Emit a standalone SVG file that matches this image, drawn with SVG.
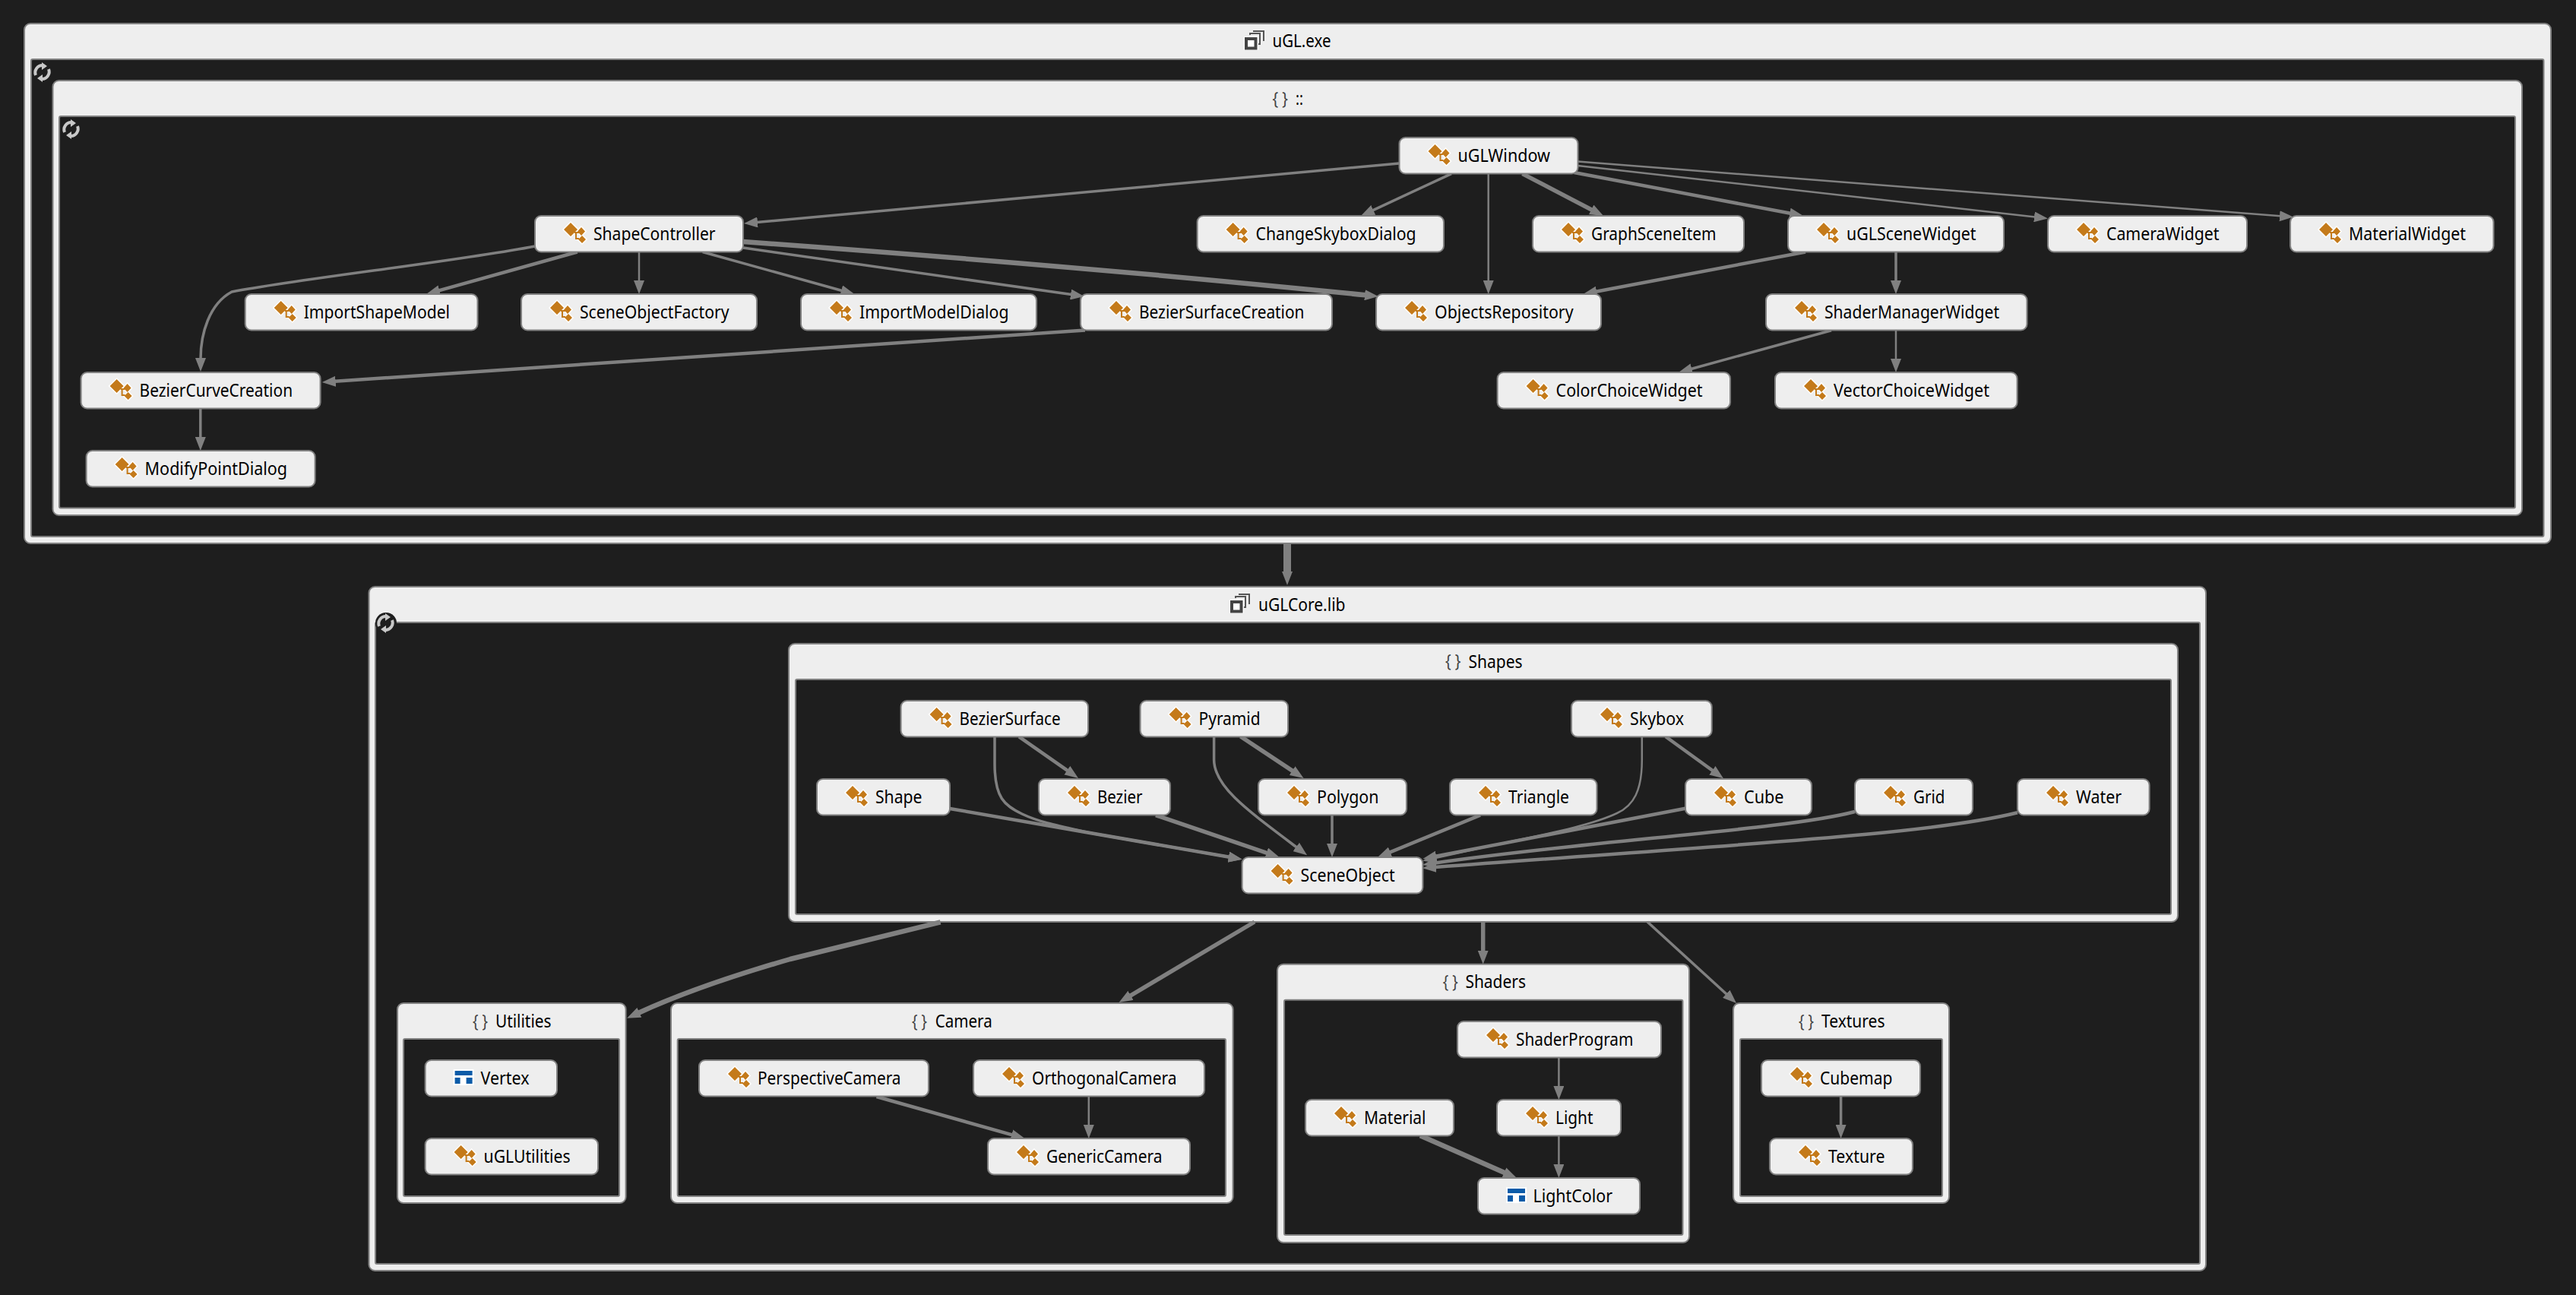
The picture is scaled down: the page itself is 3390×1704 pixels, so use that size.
<svg xmlns="http://www.w3.org/2000/svg" xmlns:xlink="http://www.w3.org/1999/xlink" width="3390" height="1704" viewBox="0 0 3390 1704">
<style>
.frame{fill:#eeeeee;stroke:#808080;stroke-width:2}
.inner{fill:#1e1e1e;stroke:#808080;stroke-width:2}
.node{fill:#eeeeee;stroke:#808080;stroke-width:2}
text{font-family:"Noto Sans","Open Sans","Liberation Sans",sans-serif;font-size:23.5px;fill:#000000}
.br{fill:#444444;font-size:24px}
.e{fill:none;stroke:#808080;marker-end:url(#head)}
.w2{stroke-width:2.5}.w3{stroke-width:3.5}.w4{stroke-width:4.5}.w5{stroke-width:5.5}.w6{stroke-width:6.5}.w10{stroke-width:10}
.ih{fill:#ffffff;stroke:#ffffff;stroke-width:3}
.ic{fill:#c47a1a}
.il{fill:none;stroke:#c47a1a;stroke-width:2}
.sy{fill:none;stroke:#c8c8c8;stroke-width:4}
.syh{fill:#c8c8c8}
</style>
<defs>
<marker id="head" markerUnits="userSpaceOnUse" markerWidth="19" markerHeight="14" refX="1" refY="7" orient="auto"><path d="M0,0L18,7L0,14z" fill="#808080"/></marker>
<g id="cls">
<path class="ih" d="M47,9L56,18L47,27L38,18zM61,15L66,20.5L61,26L56,20.5zM62,26L67,31L62,36L57,31z"/>
<path class="il" d="M52,22H58M54,22V30H58"/>
<path class="ic" d="M47,9L56,18L47,27L38,18zM61,15L66,20.5L61,26L56,20.5zM62,26L67,31L62,36L57,31z"/>
</g>
<g id="val">
<rect x="37" y="12" width="27" height="21" fill="#ffffff"/>
<path d="M39,14H62V20H39zM39,23H46V31H39zM54,23H62V31H54z" fill="#0a5ba8"/>
</g>
<g id="asm">
<rect x="0" y="8" width="19" height="18" fill="#ffffff"/>
<path d="M8,6V4H21V18H19M13,2V1H26V14" fill="none" stroke="#555555" stroke-width="2"/>
<rect x="3" y="11" width="12.5" height="12.5" fill="#ffffff" stroke="#444444" stroke-width="4"/>
</g>
<g id="sync">
<path class="sy" d="M3,16A9.5,9.5 0 0 1 12,3"/>
<path class="sy" d="M20,8A9.5,9.5 0 0 1 11,21"/>
<path class="syh" d="M11,-1V9L18,4zM12,25V15L5,20z"/>
</g>
</defs>
<rect width="3390" height="1704" fill="#1e1e1e"/>

<g id="group-uGL-exe">
<rect class="frame" x="32" y="31" width="3325" height="684" rx="8"/>
<rect class="inner" x="41" y="78" width="3306.5" height="628" rx="2"/>
<use href="#asm" x="1637" y="40"/>
<text x="1674.5" y="62" textLength="77" lengthAdjust="spacingAndGlyphs">uGL.exe</text>
<use href="#sync" x="44" y="83"/>
</g>
<g id="group-global">
<rect class="frame" x="69.5" y="106" width="3249.5" height="572" rx="8"/>
<rect class="inner" x="78" y="153" width="3232" height="515.5" rx="2"/>
<text class="br" x="1674.5" y="137.5" textLength="20.5" lengthAdjust="spacingAndGlyphs">{ }</text>
<text x="1705" y="137.5" textLength="10" lengthAdjust="spacingAndGlyphs">::</text>
<use href="#sync" x="82" y="158"/>
</g>
<g id="group-uGLCore-lib">
<rect class="frame" x="485.5" y="772" width="2417.5" height="900" rx="8"/>
<rect class="inner" x="494" y="819" width="2401" height="844" rx="2"/>
<use href="#asm" x="1618" y="781"/>
<text x="1656" y="803.5" textLength="114.5" lengthAdjust="spacingAndGlyphs">uGLCore.lib</text>
<circle cx="508" cy="820" r="14" fill="#1e1e1e"/>
<use href="#sync" x="496" y="808"/>
</g>
<g id="group-Shapes">
<rect class="frame" x="1038" y="847" width="1828" height="366" rx="8"/>
<rect class="inner" x="1047" y="894" width="1810" height="309" rx="2"/>
<text class="br" x="1902" y="878" textLength="20.5" lengthAdjust="spacingAndGlyphs">{ }</text>
<text x="1932.5" y="878.5" textLength="71" lengthAdjust="spacingAndGlyphs">Shapes</text>
</g>
<g id="group-Utilities">
<rect class="frame" x="523" y="1320" width="300.6" height="263" rx="8"/>
<rect class="inner" x="531" y="1367" width="284" height="207" rx="2"/>
<text class="br" x="622" y="1351.5" textLength="20" lengthAdjust="spacingAndGlyphs">{ }</text>
<text x="652" y="1352" textLength="73.5" lengthAdjust="spacingAndGlyphs">Utilities</text>
</g>
<g id="group-Camera">
<rect class="frame" x="883" y="1320" width="739.6" height="263" rx="8"/>
<rect class="inner" x="891.7" y="1367" width="721.3" height="207" rx="2"/>
<text class="br" x="1200" y="1351.5" textLength="20" lengthAdjust="spacingAndGlyphs">{ }</text>
<text x="1230.7" y="1352" textLength="75" lengthAdjust="spacingAndGlyphs">Camera</text>
</g>
<g id="group-Shaders">
<rect class="frame" x="1681" y="1268.7" width="542" height="366.3" rx="8"/>
<rect class="inner" x="1690" y="1315.7" width="524.5" height="309.3" rx="2"/>
<text class="br" x="1898.7" y="1300" textLength="20" lengthAdjust="spacingAndGlyphs">{ }</text>
<text x="1928.4" y="1300.2" textLength="79.6" lengthAdjust="spacingAndGlyphs">Shaders</text>
</g>
<g id="group-Textures">
<rect class="frame" x="2281" y="1320" width="284" height="263" rx="8"/>
<rect class="inner" x="2290" y="1367" width="266" height="207" rx="2"/>
<text class="br" x="2367" y="1351.5" textLength="20" lengthAdjust="spacingAndGlyphs">{ }</text>
<text x="2397" y="1352" textLength="83.5" lengthAdjust="spacingAndGlyphs">Textures</text>
</g>

<g id="connectors">
<path class="e w3" d="M1841,215L996,292.5"/>
<path class="e w3" d="M1910,228.6L1806.4,276.8"/>
<path class="e w2" d="M1958.7,228.5V370"/>
<path class="e w5" d="M2003.5,228.6L2095,276.2"/>
<path class="e w4" d="M2071.6,227L2356.3,280.8"/>
<path class="e w2" d="M2076.5,218L2678,285.5"/>
<path class="e w2" d="M2076.5,212.6L3001,284.3"/>
<path class="e w3" d="M704,324C600,344 400,366 305,384C275,400 264,440 264,472"/>
<path class="e w4" d="M759.7,331.5L577.4,382.4"/>
<path class="e w2" d="M841,331.5V370"/>
<path class="e w3" d="M924.6,331.5L1108.1,382.5"/>
<path class="e w3" d="M978,326L1410,387.6"/>
<path class="e w6" d="M978,318Q1420,350 1797,388.3"/>
<path class="e w4" d="M1428,434.4L440.7,501.8"/>
<path class="e w3" d="M263.8,537.6V576"/>
<path class="e w4" d="M2376,331.5L2100.2,383.8"/>
<path class="e w3" d="M2495,331.5V370"/>
<path class="e w3" d="M2410,434.8L2225.4,485.5"/>
<path class="e w2" d="M2495,434.8V473"/>
<path class="e w10" d="M1694,715V753"/>
<path class="e w4" d="M1341,969.3L1405.1,1014.2"/>
<path class="e w3" d="M1309,969V1005C1309,1050 1322,1060 1345,1071C1370,1083 1400,1088 1440,1097L1617.9,1127.8"/>
<path class="e w4" d="M1250,1064L1617.9,1127.8"/>
<path class="e w5" d="M1521,1072.7L1667.6,1122.5"/>
<path class="e w5" d="M1632.6,969L1701.4,1014.6"/>
<path class="e w3" d="M1597.6,969V1000C1598,1035 1640,1065 1706.5,1115"/>
<path class="e w3" d="M1753,1072V1111"/>
<path class="e w4" d="M1948,1072.7L1828.7,1121.6"/>
<path class="e w4" d="M2192,969.3L2254.2,1014.3"/>
<path class="e w2" d="M2160.8,969V1000C2160.8,1040 2150,1060 2128,1070C2090,1088 2020,1100 1975,1110L1889,1129"/>
<path class="e w4" d="M2218,1063.7L1889.2,1126.8"/>
<path class="e w4" d="M2441,1068C2350,1092 2100,1105 1889,1135.5"/>
<path class="e w4" d="M2655,1069.3C2540,1098 2300,1110 1889,1141"/>
<path class="e w6" d="M1237.6,1213.3L1040,1262C960,1285 890,1310 840.5,1332.7"/>
<path class="e w5" d="M1651,1213L1487.2,1310.3"/>
<path class="e w5" d="M1951.7,1213V1251.7"/>
<path class="e w3" d="M2168,1213L2272.5,1308.5"/>
<path class="e w4" d="M1153.5,1443L1332.2,1493.4"/>
<path class="e w2" d="M1432.8,1443V1481"/>
<path class="e w2" d="M2051.4,1391V1430"/>
<path class="e w2" d="M2051.4,1494V1533"/>
<path class="e w6" d="M1869,1494.3L1980.4,1543.2"/>
<path class="e w3" d="M2422.6,1443V1481"/>
</g>

<g id="n-uGLWindow"><rect class="node" x="1841.5" y="181" width="235" height="47.5" rx="8"/><use href="#cls" x="1841.5" y="181"/><text x="1918.5" y="213" textLength="121.5" lengthAdjust="spacingAndGlyphs">uGLWindow</text></g>
<g id="n-ShapeController"><rect class="node" x="704" y="284" width="274" height="47.5" rx="8"/><use href="#cls" x="704" y="284"/><text x="781" y="316" textLength="160.5" lengthAdjust="spacingAndGlyphs">ShapeController</text></g>
<g id="n-ChangeSkyboxDialog"><rect class="node" x="1575.6" y="284" width="324.4" height="47.5" rx="8"/><use href="#cls" x="1575.6" y="284"/><text x="1652.6" y="316" textLength="211" lengthAdjust="spacingAndGlyphs">ChangeSkyboxDialog</text></g>
<g id="n-GraphSceneItem"><rect class="node" x="2017" y="284" width="278" height="47.5" rx="8"/><use href="#cls" x="2017" y="284"/><text x="2094" y="316" textLength="164.5" lengthAdjust="spacingAndGlyphs">GraphSceneItem</text></g>
<g id="n-uGLSceneWidget"><rect class="node" x="2353" y="284" width="284" height="47.5" rx="8"/><use href="#cls" x="2353" y="284"/><text x="2430" y="316" textLength="170.5" lengthAdjust="spacingAndGlyphs">uGLSceneWidget</text></g>
<g id="n-CameraWidget"><rect class="node" x="2695" y="284" width="262" height="47.5" rx="8"/><use href="#cls" x="2695" y="284"/><text x="2772" y="316" textLength="148.5" lengthAdjust="spacingAndGlyphs">CameraWidget</text></g>
<g id="n-MaterialWidget"><rect class="node" x="3014" y="284" width="267.5" height="47.5" rx="8"/><use href="#cls" x="3014" y="284"/><text x="3091" y="316" textLength="154" lengthAdjust="spacingAndGlyphs">MaterialWidget</text></g>
<g id="n-ImportShapeModel"><rect class="node" x="322.7" y="387" width="305.8" height="47.5" rx="8"/><use href="#cls" x="322.7" y="387"/><text x="399.7" y="419" textLength="192.3" lengthAdjust="spacingAndGlyphs">ImportShapeModel</text></g>
<g id="n-SceneObjectFactory"><rect class="node" x="686" y="387" width="310" height="47.5" rx="8"/><use href="#cls" x="686" y="387"/><text x="763" y="419" textLength="196.5" lengthAdjust="spacingAndGlyphs">SceneObjectFactory</text></g>
<g id="n-ImportModelDialog"><rect class="node" x="1054" y="387" width="310" height="47.5" rx="8"/><use href="#cls" x="1054" y="387"/><text x="1131" y="419" textLength="196.5" lengthAdjust="spacingAndGlyphs">ImportModelDialog</text></g>
<g id="n-BezierSurfaceCreation"><rect class="node" x="1422" y="387" width="331" height="47.5" rx="8"/><use href="#cls" x="1422" y="387"/><text x="1499" y="419" textLength="217.5" lengthAdjust="spacingAndGlyphs">BezierSurfaceCreation</text></g>
<g id="n-ObjectsRepository"><rect class="node" x="1811" y="387" width="296" height="47.5" rx="8"/><use href="#cls" x="1811" y="387"/><text x="1888" y="419" textLength="182.5" lengthAdjust="spacingAndGlyphs">ObjectsRepository</text></g>
<g id="n-ShaderManagerWidget"><rect class="node" x="2324" y="387" width="343.5" height="47.5" rx="8"/><use href="#cls" x="2324" y="387"/><text x="2401" y="419" textLength="230" lengthAdjust="spacingAndGlyphs">ShaderManagerWidget</text></g>
<g id="n-BezierCurveCreation"><rect class="node" x="106.6" y="490" width="315" height="47.5" rx="8"/><use href="#cls" x="106.6" y="490"/><text x="183.6" y="522" textLength="201.5" lengthAdjust="spacingAndGlyphs">BezierCurveCreation</text></g>
<g id="n-ColorChoiceWidget"><rect class="node" x="1970.6" y="490" width="306.4" height="47.5" rx="8"/><use href="#cls" x="1970.6" y="490"/><text x="2047.6" y="522" textLength="193" lengthAdjust="spacingAndGlyphs">ColorChoiceWidget</text></g>
<g id="n-VectorChoiceWidget"><rect class="node" x="2336" y="490" width="318.6" height="47.5" rx="8"/><use href="#cls" x="2336" y="490"/><text x="2413" y="522" textLength="205" lengthAdjust="spacingAndGlyphs">VectorChoiceWidget</text></g>
<g id="n-ModifyPointDialog"><rect class="node" x="113.6" y="593" width="301" height="47.5" rx="8"/><use href="#cls" x="113.6" y="593"/><text x="190.6" y="625" textLength="187.5" lengthAdjust="spacingAndGlyphs">ModifyPointDialog</text></g>
<g id="n-BezierSurface"><rect class="node" x="1185.6" y="922" width="246.4" height="47.5" rx="8"/><use href="#cls" x="1185.6" y="922"/><text x="1262.6" y="954" textLength="133" lengthAdjust="spacingAndGlyphs">BezierSurface</text></g>
<g id="n-Pyramid"><rect class="node" x="1500.6" y="922" width="194.4" height="47.5" rx="8"/><use href="#cls" x="1500.6" y="922"/><text x="1577.6" y="954" textLength="81" lengthAdjust="spacingAndGlyphs">Pyramid</text></g>
<g id="n-Skybox"><rect class="node" x="2068" y="922" width="184.7" height="47.5" rx="8"/><use href="#cls" x="2068" y="922"/><text x="2145" y="954" textLength="71" lengthAdjust="spacingAndGlyphs">Skybox</text></g>
<g id="n-Shape"><rect class="node" x="1075" y="1025" width="175" height="47.5" rx="8"/><use href="#cls" x="1075" y="1025"/><text x="1152" y="1057" textLength="61.5" lengthAdjust="spacingAndGlyphs">Shape</text></g>
<g id="n-Bezier"><rect class="node" x="1367" y="1025" width="173" height="47.5" rx="8"/><use href="#cls" x="1367" y="1025"/><text x="1444" y="1057" textLength="59.5" lengthAdjust="spacingAndGlyphs">Bezier</text></g>
<g id="n-Polygon"><rect class="node" x="1656" y="1025" width="195" height="47.5" rx="8"/><use href="#cls" x="1656" y="1025"/><text x="1733" y="1057" textLength="81.5" lengthAdjust="spacingAndGlyphs">Polygon</text></g>
<g id="n-Triangle"><rect class="node" x="1908" y="1025" width="193.5" height="47.5" rx="8"/><use href="#cls" x="1908" y="1025"/><text x="1985" y="1057" textLength="80" lengthAdjust="spacingAndGlyphs">Triangle</text></g>
<g id="n-Cube"><rect class="node" x="2218" y="1025" width="166" height="47.5" rx="8"/><use href="#cls" x="2218" y="1025"/><text x="2295" y="1057" textLength="52.5" lengthAdjust="spacingAndGlyphs">Cube</text></g>
<g id="n-Grid"><rect class="node" x="2441" y="1025" width="155" height="47.5" rx="8"/><use href="#cls" x="2441" y="1025"/><text x="2518" y="1057" textLength="41.5" lengthAdjust="spacingAndGlyphs">Grid</text></g>
<g id="n-Water"><rect class="node" x="2655" y="1025" width="173.6" height="47.5" rx="8"/><use href="#cls" x="2655" y="1025"/><text x="2732" y="1057" textLength="60" lengthAdjust="spacingAndGlyphs">Water</text></g>
<g id="n-SceneObject"><rect class="node" x="1634.6" y="1128" width="237.8" height="47.5" rx="8"/><use href="#cls" x="1634.6" y="1128"/><text x="1711.6" y="1160" textLength="124" lengthAdjust="spacingAndGlyphs">SceneObject</text></g>
<g id="n-Vertex"><rect class="node" x="559.6" y="1395" width="173.4" height="47.5" rx="8"/><use href="#val" x="559.6" y="1395"/><text x="632.5" y="1427" textLength="64" lengthAdjust="spacingAndGlyphs">Vertex</text></g>
<g id="n-uGLUtilities"><rect class="node" x="559.6" y="1498" width="227.4" height="47.5" rx="8"/><use href="#cls" x="559.6" y="1498"/><text x="636.6" y="1530" textLength="114" lengthAdjust="spacingAndGlyphs">uGLUtilities</text></g>
<g id="n-PerspectiveCamera"><rect class="node" x="920" y="1395" width="302" height="47.5" rx="8"/><use href="#cls" x="920" y="1395"/><text x="997" y="1427" textLength="188.5" lengthAdjust="spacingAndGlyphs">PerspectiveCamera</text></g>
<g id="n-OrthogonalCamera"><rect class="node" x="1281" y="1395" width="304" height="47.5" rx="8"/><use href="#cls" x="1281" y="1395"/><text x="1358" y="1427" textLength="190.5" lengthAdjust="spacingAndGlyphs">OrthogonalCamera</text></g>
<g id="n-GenericCamera"><rect class="node" x="1300" y="1498" width="266" height="47.5" rx="8"/><use href="#cls" x="1300" y="1498"/><text x="1377" y="1530" textLength="152.5" lengthAdjust="spacingAndGlyphs">GenericCamera</text></g>
<g id="n-ShaderProgram"><rect class="node" x="1918" y="1344" width="268" height="47.5" rx="8"/><use href="#cls" x="1918" y="1344"/><text x="1995" y="1376" textLength="154.5" lengthAdjust="spacingAndGlyphs">ShaderProgram</text></g>
<g id="n-Material"><rect class="node" x="1718" y="1447" width="195" height="47.5" rx="8"/><use href="#cls" x="1718" y="1447"/><text x="1795" y="1479" textLength="81.5" lengthAdjust="spacingAndGlyphs">Material</text></g>
<g id="n-Light"><rect class="node" x="1970" y="1447" width="163" height="47.5" rx="8"/><use href="#cls" x="1970" y="1447"/><text x="2047" y="1479" textLength="49.5" lengthAdjust="spacingAndGlyphs">Light</text></g>
<g id="n-LightColor"><rect class="node" x="1945" y="1550" width="213" height="47.5" rx="8"/><use href="#val" x="1945" y="1550"/><text x="2017.5" y="1582" textLength="104.5" lengthAdjust="spacingAndGlyphs">LightColor</text></g>
<g id="n-Cubemap"><rect class="node" x="2318" y="1395" width="209" height="47.5" rx="8"/><use href="#cls" x="2318" y="1395"/><text x="2395" y="1427" textLength="95.5" lengthAdjust="spacingAndGlyphs">Cubemap</text></g>
<g id="n-Texture"><rect class="node" x="2329" y="1498" width="188" height="47.5" rx="8"/><use href="#cls" x="2329" y="1498"/><text x="2406" y="1530" textLength="74.5" lengthAdjust="spacingAndGlyphs">Texture</text></g>
</svg>
